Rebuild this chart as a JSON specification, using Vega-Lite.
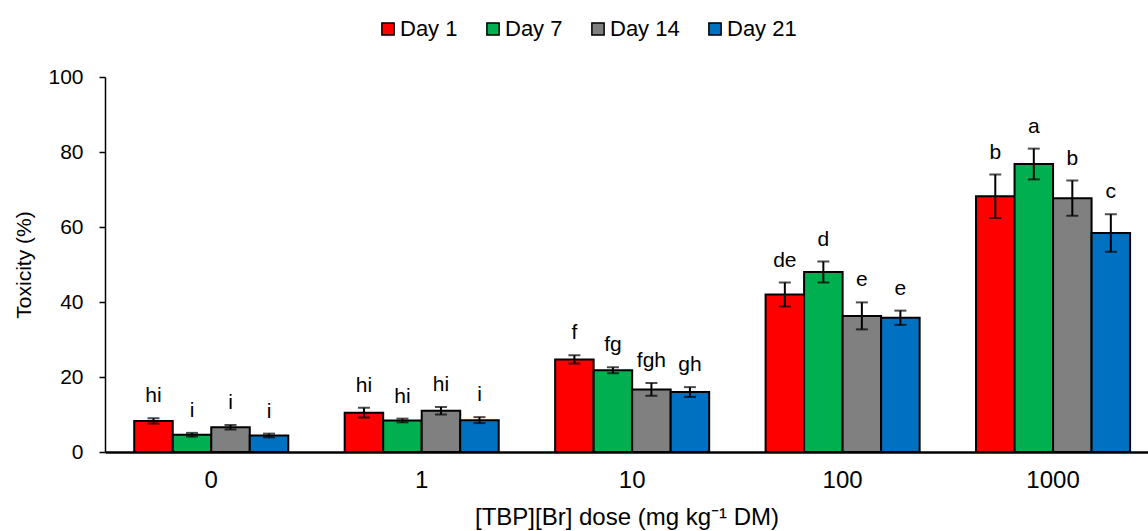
{
  "$schema": "https://vega.github.io/schema/vega-lite/v6.json",
  "width": 1043,
  "height": 375,
  "autosize": {"type": "none"},
  "padding": {"left": 105, "top": 77, "right": 0, "bottom": 79},
  "config": {"font": "Liberation Sans", "view": {"stroke": null}},
  "data": {
    "values": [
      {"dose": "0", "day": "Day 1", "mean": 8.3, "lower": 7.6, "upper": 9.0, "letter": "hi"},
      {"dose": "0", "day": "Day 7", "mean": 4.6, "lower": 4.1, "upper": 5.1, "letter": "i"},
      {"dose": "0", "day": "Day 14", "mean": 6.6, "lower": 6.0, "upper": 7.2, "letter": "i"},
      {"dose": "0", "day": "Day 21", "mean": 4.4, "lower": 3.9, "upper": 4.9, "letter": "i"},
      {"dose": "1", "day": "Day 1", "mean": 10.5, "lower": 9.2, "upper": 11.8, "letter": "hi"},
      {"dose": "1", "day": "Day 7", "mean": 8.4, "lower": 7.9, "upper": 8.9, "letter": "hi"},
      {"dose": "1", "day": "Day 14", "mean": 11.0, "lower": 10.0, "upper": 12.0, "letter": "hi"},
      {"dose": "1", "day": "Day 21", "mean": 8.5, "lower": 7.7, "upper": 9.3, "letter": "i"},
      {"dose": "10", "day": "Day 1", "mean": 24.7, "lower": 23.6, "upper": 25.8, "letter": "f"},
      {"dose": "10", "day": "Day 7", "mean": 21.8, "lower": 21.0, "upper": 22.6, "letter": "fg"},
      {"dose": "10", "day": "Day 14", "mean": 16.7, "lower": 15.0, "upper": 18.4, "letter": "fgh"},
      {"dose": "10", "day": "Day 21", "mean": 16.0, "lower": 14.7, "upper": 17.3, "letter": "gh"},
      {"dose": "100", "day": "Day 1", "mean": 42.0, "lower": 38.8, "upper": 45.2, "letter": "de"},
      {"dose": "100", "day": "Day 7", "mean": 48.0, "lower": 45.2, "upper": 50.8, "letter": "d"},
      {"dose": "100", "day": "Day 14", "mean": 36.3, "lower": 32.7, "upper": 39.9, "letter": "e"},
      {"dose": "100", "day": "Day 21", "mean": 35.8, "lower": 33.9, "upper": 37.7, "letter": "e"},
      {"dose": "1000", "day": "Day 1", "mean": 68.2, "lower": 62.4, "upper": 74.0, "letter": "b"},
      {"dose": "1000", "day": "Day 7", "mean": 76.8, "lower": 72.7, "upper": 80.9, "letter": "a"},
      {"dose": "1000", "day": "Day 14", "mean": 67.7, "lower": 63.0, "upper": 72.4, "letter": "b"},
      {"dose": "1000", "day": "Day 21", "mean": 58.4, "lower": 53.4, "upper": 63.4, "letter": "c"}
    ]
  },
  "encoding": {
    "x": {
      "field": "dose",
      "type": "nominal",
      "sort": ["0", "1", "10", "100", "1000"],
      "scale": {"paddingInner": 0.268, "paddingOuter": 0.112, "align": 0.62},
      "axis": {
        "title": "[TBP][Br] dose (mg kg⁻¹ DM)",
        "titleFontSize": 24,
        "titleFontWeight": "normal",
        "titleColor": "black",
        "titlePadding": 13,
        "labelFontSize": 24,
        "labelColor": "black",
        "labelAngle": 0,
        "labelPadding": 16,
        "ticks": false,
        "domainColor": "black",
        "domainWidth": 2.5
      }
    },
    "xOffset": {
      "field": "day",
      "type": "nominal",
      "sort": ["Day 1", "Day 7", "Day 14", "Day 21"],
      "scale": {"paddingInner": 0, "paddingOuter": 0}
    }
  },
  "layer": [
    {
      "mark": {"type": "bar", "stroke": "black", "strokeWidth": 2},
      "encoding": {
        "y": {
          "field": "mean",
          "type": "quantitative",
          "scale": {"domain": [0, 100]},
          "axis": {
            "values": [0, 20, 40, 60, 80, 100],
            "title": "Toxicity (%)",
            "titleFontSize": 21,
            "titleFontWeight": "normal",
            "titleColor": "black",
            "titlePadding": 13,
            "labelFontSize": 21,
            "labelColor": "black",
            "labelPadding": 16,
            "grid": false,
            "tickColor": "black",
            "tickSize": 6,
            "tickWidth": 1.5,
            "domainColor": "black",
            "domainWidth": 1.5
          }
        },
        "color": {
          "field": "day",
          "type": "nominal",
          "sort": ["Day 1", "Day 7", "Day 14", "Day 21"],
          "scale": {"domain": ["Day 1", "Day 7", "Day 14", "Day 21"], "range": ["#FF0000", "#00B050", "#808080", "#0070C0"]},
          "legend": {
            "orient": "none",
            "direction": "horizontal",
            "legendX": 272,
            "legendY": -59,
            "title": null,
            "symbolType": "square",
            "symbolSize": 150,
            "symbolStrokeColor": "black",
            "symbolStrokeWidth": 1.5,
            "labelFontSize": 22,
            "labelColor": "black",
            "labelOffset": 1,
            "columnPadding": 24
          }
        }
      }
    },
    {
      "mark": {"type": "rule", "color": "black", "strokeWidth": 2},
      "encoding": {
        "y": {"field": "lower", "type": "quantitative"},
        "y2": {"field": "upper"}
      }
    },
    {
      "mark": {"type": "tick", "orient": "horizontal", "color": "black", "size": 12, "thickness": 2},
      "encoding": {"y": {"field": "lower", "type": "quantitative"}}
    },
    {
      "mark": {"type": "tick", "orient": "horizontal", "color": "black", "size": 12, "thickness": 2},
      "encoding": {"y": {"field": "upper", "type": "quantitative"}}
    },
    {
      "mark": {"type": "text", "fontSize": 21, "color": "black", "baseline": "alphabetic", "dy": -16},
      "encoding": {
        "y": {"field": "upper", "type": "quantitative"},
        "text": {"field": "letter"}
      }
    }
  ]
}
